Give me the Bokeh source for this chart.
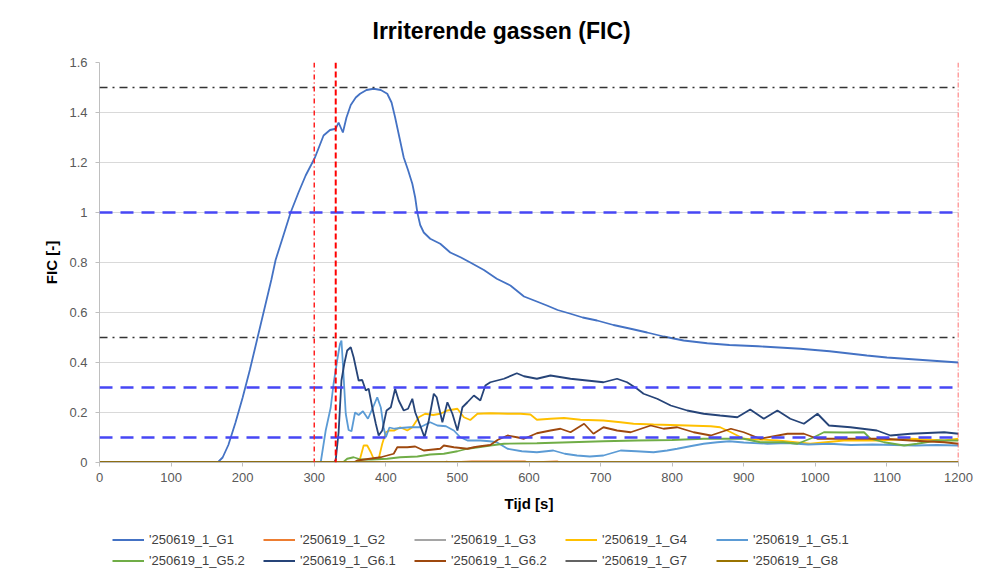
from bokeh.plotting import figure
from bokeh.layouts import column
from bokeh.models import (Span, Legend, LegendItem, FixedTicker, NumeralTickFormatter, Range1d)
from bokeh.embed import file_html
from bokeh.resources import INLINE

FONT = "Liberation Sans"

title_text = "Irriterende gassen (FIC)"
x_label = "Tijd [s]"
y_label = "FIC [-]"
x_ticks = [0, 100, 200, 300, 400, 500, 600, 700, 800, 900, 1000, 1100, 1200]
y_ticks = [0, 0.2, 0.4, 0.6, 0.8, 1.0, 1.2, 1.4, 1.6]

names = ["'250619_1_G1", "'250619_1_G2", "'250619_1_G3", "'250619_1_G4", "'250619_1_G5.1",
         "'250619_1_G5.2", "'250619_1_G6.1", "'250619_1_G6.2", "'250619_1_G7", "'250619_1_G8"]
colors = ["#4472C4", "#ED7D31", "#A5A5A5", "#FFC000", "#5B9BD5",
          "#70AD47", "#264478", "#9E480E", "#636363", "#997300"]

# G1
g1_t = [0, 165, 172, 180, 190, 200, 210, 220, 230, 240, 246, 256, 267, 278, 288, 301, 313, 322,
        330, 334, 340, 345, 351, 358, 364, 373, 383, 393, 402, 408, 413, 419, 425, 431, 437, 441,
        444, 448, 453, 462, 476, 490, 505, 518, 537, 555, 574, 593, 610, 625, 640, 658, 675, 695,
        718, 742, 765, 788, 816, 849, 880, 920, 979, 1020, 1072, 1100, 1150, 1200]
g1_v = [0, 0, 0.02, 0.07, 0.16, 0.26, 0.37, 0.49, 0.61, 0.73, 0.81, 0.9, 1.0, 1.08, 1.148, 1.22,
        1.308, 1.33, 1.335, 1.36, 1.32, 1.38, 1.43, 1.46, 1.475, 1.49, 1.495, 1.49, 1.475, 1.44,
        1.38, 1.30, 1.22, 1.17, 1.115, 1.06, 1.0, 0.95, 0.92, 0.895, 0.875, 0.84, 0.82, 0.80, 0.77,
        0.735, 0.708, 0.664, 0.645, 0.628, 0.61, 0.595, 0.58, 0.568, 0.55, 0.535, 0.52, 0.504,
        0.488, 0.477, 0.47, 0.465, 0.455, 0.445, 0.428, 0.42, 0.41, 0.40]

# G2
g2_t = [0, 480, 485, 490, 520, 595, 600, 640, 645, 1200]
g2_v = [0, 0, 0.004, 0, 0.004, 0.004, 0, 0.004, 0, 0]

# G3
g3_t = [0, 1200]
g3_v = [0, 0]

# G4
g4_t = [0, 362, 364, 369, 374, 379, 383, 390, 395, 400, 405, 412, 420, 430, 437, 446, 455, 466,
        476, 486, 500, 509, 518, 528, 546, 570, 588, 602, 611, 630, 649, 672, 704, 728, 746, 774,
        821, 854, 867, 882, 900, 947, 993, 1040, 1086, 1133, 1180, 1200]
g4_v = [0, 0, 0.015, 0.068, 0.068, 0.041, 0.015, 0.015, 0.075, 0.121, 0.128, 0.128, 0.141,
        0.128, 0.141, 0.181, 0.195, 0.19, 0.195, 0.208, 0.215, 0.181, 0.17, 0.195, 0.197, 0.195,
        0.195, 0.192, 0.171, 0.175, 0.178, 0.171, 0.168, 0.161, 0.155, 0.152, 0.148, 0.145,
        0.141, 0.121, 0.095, 0.088, 0.075, 0.088, 0.088, 0.095, 0.088, 0.095]

# G5.1
g51_t = [0, 309, 316, 323, 327, 332, 336, 338, 340, 344, 348, 352, 357, 362, 368, 375, 382, 388,
         393, 397, 400, 405, 412, 420, 434, 448, 462, 472, 484, 495, 504, 514, 532, 545, 555, 570,
         590, 611, 634, 650, 667, 685, 704, 728, 750, 774, 793, 807, 825, 844, 863, 880, 900, 933,
         960, 990, 1020, 1050, 1080, 1110, 1140, 1170, 1200]
g51_v = [0, 0, 0.128, 0.22, 0.315, 0.408, 0.475, 0.488, 0.395, 0.195, 0.13, 0.125, 0.2, 0.19,
         0.205, 0.175, 0.22, 0.261, 0.22, 0.14, 0.101, 0.14, 0.135, 0.138, 0.141, 0.141, 0.161,
         0.148, 0.145, 0.128, 0.101, 0.088, 0.088, 0.085, 0.081, 0.055, 0.045, 0.041, 0.048,
         0.035, 0.028, 0.024, 0.028, 0.048, 0.045, 0.041, 0.048, 0.055, 0.065, 0.075, 0.081,
         0.085, 0.08, 0.075, 0.078, 0.072, 0.075, 0.07, 0.072, 0.07, 0.068, 0.07, 0.068]

# G5.2
g52_t = [0, 340, 346, 355, 365, 380, 402, 420, 444, 462, 481, 500, 514, 532, 546, 565, 611, 658,
         704, 751, 800, 844, 900, 923, 956, 975, 998, 1012, 1040, 1068, 1077, 1096, 1124, 1142,
         1170, 1200]
g52_v = [0, 0, 0.015, 0.021, 0.012, 0.012, 0.015, 0.021, 0.024, 0.032, 0.035, 0.045, 0.055,
         0.062, 0.068, 0.075, 0.077, 0.081, 0.085, 0.088, 0.09, 0.095, 0.095, 0.081, 0.081, 0.075,
         0.101, 0.121, 0.12, 0.121, 0.095, 0.081, 0.068, 0.075, 0.088, 0.088]

# G6.1
g61_t = [0, 327, 330, 334, 338, 342, 346, 351, 355, 362, 367, 372, 376, 381, 386, 390, 395, 401,
         407, 413, 418, 425, 431, 437, 441, 448, 454, 460, 467, 471, 479, 486, 493, 500, 507, 514,
         523, 532, 539, 546, 565, 583, 593, 611, 630, 658, 681, 704, 723, 737, 751, 760, 779, 798,
         821, 844, 867, 891, 909, 928, 947, 965, 984, 1003, 1019, 1049, 1086, 1105, 1133, 1180, 1200]
g61_v = [0, 0, 0.01, 0.12, 0.328, 0.395, 0.448, 0.461, 0.421, 0.328, 0.33, 0.288, 0.295, 0.221,
         0.155, 0.108, 0.128, 0.208, 0.221, 0.295, 0.248, 0.208, 0.215, 0.255, 0.201, 0.148,
         0.101, 0.168, 0.275, 0.261, 0.161, 0.241, 0.195, 0.128, 0.221, 0.241, 0.268, 0.248,
         0.308, 0.321, 0.335, 0.357, 0.345, 0.335, 0.348, 0.335, 0.328, 0.321, 0.335, 0.321,
         0.295, 0.275, 0.255, 0.228, 0.208, 0.195, 0.188, 0.181, 0.212, 0.175, 0.208, 0.175,
         0.155, 0.195, 0.148, 0.141, 0.128, 0.108, 0.115, 0.121, 0.115]

# G6.2
g62_t = [0, 355, 360, 393, 411, 416, 430, 441, 453, 476, 481, 495, 514, 523, 532, 546, 556, 570,
         583, 593, 611, 630, 644, 658, 677, 690, 704, 723, 742, 770, 788, 807, 830, 854, 882, 900,
         923, 961, 984, 1003, 1050, 1096, 1133, 1180, 1200]
g62_v = [0, 0, 0.008, 0.021, 0.035, 0.061, 0.061, 0.064, 0.048, 0.055, 0.068, 0.061, 0.055,
         0.061, 0.065, 0.07, 0.09, 0.108, 0.101, 0.095, 0.117, 0.128, 0.135, 0.121, 0.155, 0.115,
         0.141, 0.128, 0.121, 0.148, 0.135, 0.141, 0.121, 0.108, 0.135, 0.121, 0.095, 0.115,
         0.115, 0.095, 0.095, 0.095, 0.088, 0.081, 0.075]

# G7
g7_t = [0, 1200]
g7_v = [0, 0]

# G8
g8_t = [0, 1200]
g8_v = [0, 0]

series_t = [g1_t, g2_t, g3_t, g4_t, g51_t, g52_t, g61_t, g62_t, g7_t, g8_t]
series_v = [g1_v, g2_v, g3_v, g4_v, g51_v, g52_v, g61_v, g62_v, g7_v, g8_v]

limit_dashdot = [1.5, 0.5]
limit_dashed = [1.0, 0.3, 0.1]
time_markers = [300, 330, 1200]

p = figure(width=978, height=522, output_backend="svg", toolbar_location=None,
           x_range=Range1d(0, 1200), y_range=Range1d(0, 1.6),
           min_border_left=99, min_border_right=20, min_border_top=62, min_border_bottom=60)

p.outline_line_color = None
p.background_fill_color = "white"
p.border_fill_color = "white"

p.title.text = title_text
p.title.text_font = FONT
p.title.text_font_size = "23px"
p.title.text_font_style = "bold"
p.title.text_color = "#000000"
p.title.align = "left"
p.title.offset = 273
p.title.vertical_align = "top"
p.title.standoff = 34

p.xaxis.ticker = FixedTicker(ticks=x_ticks)
p.yaxis.ticker = FixedTicker(ticks=y_ticks)
p.yaxis.formatter = NumeralTickFormatter(format="0.[0]")
p.xaxis.axis_label = x_label
p.yaxis.axis_label = y_label
for ax in (p.xaxis[0], p.yaxis[0]):
    ax.axis_label_text_font = FONT
    ax.axis_label_text_font_size = "15px"
    ax.axis_label_text_font_style = "bold"
    ax.axis_label_text_color = "#000000"
    ax.major_label_text_font = FONT
    ax.major_label_text_font_size = "13px"
    ax.major_label_text_color = "#595959"
    ax.axis_line_color = "#bfbfbf"
    ax.major_tick_line_color = "#bfbfbf"
    ax.major_tick_in = 0
    ax.major_tick_out = 4
    ax.minor_tick_in = 0
    ax.minor_tick_out = 0
    ax.major_label_standoff = 8
p.xaxis.major_label_standoff = 6
p.xaxis.axis_label_standoff = 10
p.yaxis.axis_label_standoff = 6

p.xgrid.visible = False
p.ygrid.grid_line_color = "#d9d9d9"
p.ygrid.grid_line_width = 1

for i, (t, v, c) in enumerate(zip(series_t, series_v, colors)):
    p.line(t, v, line_color=c, line_width=2.5 if i == len(colors) - 1 else 1.8)

for y in limit_dashdot:
    p.add_layout(Span(location=y, dimension="width", line_color="#333333",
                      line_dash="8 5 2 5", line_width=1.5))
for y in limit_dashed:
    p.add_layout(Span(location=y, dimension="width", line_color="#4747f5",
                      line_dash="13 8", line_width=2.5))
p.add_layout(Span(location=time_markers[0], dimension="height", line_color="#ff2020",
                  line_dash="5 3 1 3", line_width=1.5))
p.add_layout(Span(location=time_markers[1], dimension="height", line_color="#ff0000",
                  line_dash="6 3", line_width=2))
p.add_layout(Span(location=time_markers[2], dimension="height", line_color="#ff4040",
                  line_dash="5 2 1 2", line_width=1.5))

# legend strip (separate figure so that it is not clipped by the plot frame);
# its series lie outside its visible range, only the legend shows
lg = figure(width=978, height=47, output_backend="svg", toolbar_location=None,
            x_range=Range1d(0, 1200), y_range=Range1d(10, 11),
            x_axis_location=None, y_axis_location=None,
            min_border_left=0, min_border_right=0, min_border_top=0, min_border_bottom=0)
lg.outline_line_color = None
lg.xgrid.visible = False
lg.ygrid.visible = False
lg.background_fill_color = "white"
lg.border_fill_color = "white"
legend_renderers = [lg.line(t, v, line_color=c, line_width=2)
                    for t, v, c in zip(series_t, series_v, colors)]

items = [LegendItem(label=n, renderers=[r]) for n, r in zip(names, legend_renderers)]
legend = Legend(items=items, location=(13, 0), orientation="horizontal", ncols=5,
                glyph_width=32, glyph_height=17, label_height=17, label_width=110,
                label_standoff=5, spacing=4, padding=0, margin=0,
                border_line_color=None, background_fill_alpha=0,
                label_text_font=FONT, label_text_font_size="13px", label_text_color="#404040")
lg.add_layout(legend)

layout = column(p, lg, spacing=0)
open("out.html", "w").write(file_html(layout, INLINE))
